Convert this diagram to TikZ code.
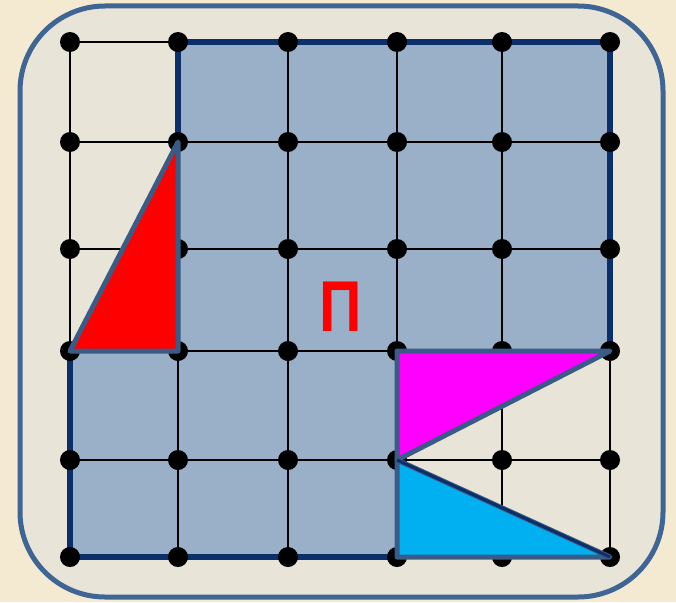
\documentclass[tikz,border=0pt]{standalone}
\usepackage{fontspec}
\usepackage{tikz}
\usetikzlibrary{calc}
\newfontfamily\letterfont{Liberation Sans}
\definecolor{pagebg}{HTML}{F4EAD2}
\definecolor{cardbg}{HTML}{E8E4D8}
\definecolor{cardedge}{HTML}{3E6594}
\definecolor{areafill}{HTML}{9AAFC8}
\definecolor{areaedge}{HTML}{0B2F6B}
\definecolor{triedge}{HTML}{3A5B86}
\definecolor{trired}{HTML}{FF0000}
\definecolor{trimagenta}{HTML}{FF00FF}
\definecolor{tricyan}{HTML}{00B0F0}

\begin{document}
\begin{tikzpicture}[x=1pt, y=-1pt,
        card/.style={draw=cardedge, line width=5pt, fill=cardbg, rounded corners=85pt},
        area/.style={fill=areafill},
        arealine/.style={draw=areaedge, line width=6.5pt, line join=round, line cap=round},
        gridline/.style={draw=black, line width=1.4pt},
        dot/.style={circle, fill=black, inner sep=0pt, minimum size=20pt},
        piece/.style={draw=triedge, line width=5pt, line join=round}
    ]
    % page and card
    \fill[pagebg] (0,0) rectangle (676,602);
    \useasboundingbox (0,0) rectangle (676,602);
    \draw[card] (20,6) rectangle (663,597);

    % grid points p-column-row
    \foreach \x [count=\i] in {70,178,288,397,502,610}
        \foreach \y [count=\j] in {42,142,249,351,460,557}
            \coordinate (p-\i-\j) at (\x,\y);

    % shaded figure
    \fill[area] (p-2-1) -- (p-6-1) -- (p-6-4) -- (p-4-4) -- (p-4-5)
        -- (p-4-6) -- (p-1-6) -- (p-1-4) -- (p-2-2) -- cycle;

    % grid
    \foreach \i in {1,...,6} {
        \draw[gridline] (p-\i-1) -- (p-\i-6);
        \draw[gridline] (p-1-\i) -- (p-6-\i);
    }

    % outline of the figure
    \draw[arealine] (p-2-2) -- (p-2-1) -- (p-6-1) -- (p-6-4);
    \draw[arealine] (p-1-4) -- (p-1-6) -- (p-4-6);

    % dots
    \foreach \i in {1,...,6}
        \foreach \j in {1,...,6}
            \node[dot] (d-\i-\j) at (p-\i-\j) {};

    % moved pieces
    \draw[piece, fill=trired] (p-1-4) -- (p-2-2) -- (p-2-4) -- cycle;
    \draw[piece, fill=trimagenta] (p-4-4) -- (p-6-4) -- (p-4-5) -- cycle;
    \draw[piece, fill=tricyan] (p-4-5) -- (p-4-6) -- (p-6-6) -- cycle;
    \draw[areaedge, line width=3pt] (p-4-5) -- (p-6-6);

    % label
    \node (label) at (341,307) [text=trired, font=\letterfont\bfseries\fontsize{72}{72}\selectfont, xscale=0.82, inner sep=0pt] {П};
\end{tikzpicture}
\end{document}
